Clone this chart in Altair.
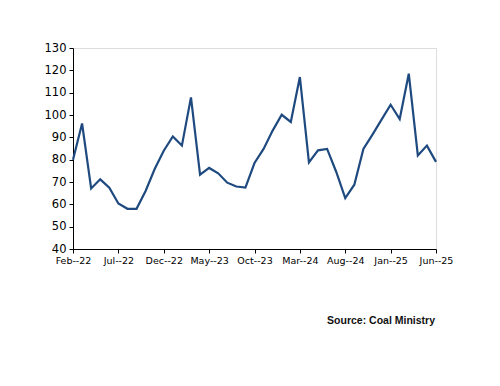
import altair as alt
import pandas as pd

months = ["Feb--22","Mar--22","Apr--22","May--22","Jun--22","Jul--22","Aug--22","Sep--22","Oct--22","Nov--22","Dec--22",
          "Jan--23","Feb--23","Mar--23","Apr--23","May--23","Jun--23","Jul--23","Aug--23","Sep--23","Oct--23","Nov--23","Dec--23",
          "Jan--24","Feb--24","Mar--24","Apr--24","May--24","Jun--24","Jul--24","Aug--24","Sep--24","Oct--24","Nov--24","Dec--24",
          "Jan--25","Feb--25","Mar--25","Apr--25","May--25","Jun--25"]
values = [80.0, 96.2, 67.1, 71.2, 67.5, 60.4, 58.0, 58.0, 66.0, 75.8, 84.0,
          90.4, 86.3, 107.9, 73.3, 76.3, 73.9, 69.7, 68.0, 67.5, 78.5, 84.8, 93.0,
          100.1, 96.9, 117.0, 78.8, 84.2, 84.8, 74.6, 62.8, 68.8, 84.8, 91.2, 97.9,
          104.6, 98.2, 118.5, 81.9, 86.3, 79.0]
tick_labels = months[::5]
source_text = "Source: Coal Ministry"

df = pd.DataFrame({"month": months, "value": values})

line = alt.Chart(df).mark_line(color="#1f4a7f", strokeWidth=2.2).encode(
    x=alt.X("month:N", sort=months,
            scale=alt.Scale(type="point", padding=0),
            axis=alt.Axis(values=tick_labels, title=None, labelAngle=0,
                          domainColor="black", tickColor="black", tickSize=4,
                          labelFont="DejaVu Sans", labelFontSize=9.5, labelColor="black",
                          labelPadding=2, grid=False)),
    y=alt.Y("value:Q", scale=alt.Scale(domain=[40, 130], nice=False, zero=False),
            axis=alt.Axis(values=list(range(40, 131, 10)), title=None,
                          domainColor="black", tickColor="black", tickSize=4,
                          labelFont="DejaVu Sans", labelFontSize=11.5, labelColor="black",
                          labelPadding=3, grid=False)),
)

src = alt.Chart(pd.DataFrame({"t": [source_text]})).mark_text(
    align="right", baseline="middle", font="Liberation Sans", fontSize=10.5,
    fontWeight="bold", color="#111111"
).encode(text="t:N", x=alt.value(362), y=alt.value(273))

chart = alt.layer(line, src).properties(
    width=363, height=201,
    autosize=alt.AutoSizeParams(type="none"),
    padding={"left": 65, "top": 40, "right": 56, "bottom": 129},
).configure_view(strokeWidth=0).configure(background="white")

chart.save("out.html", embed_options={"renderer": "svg", "actions": False})
